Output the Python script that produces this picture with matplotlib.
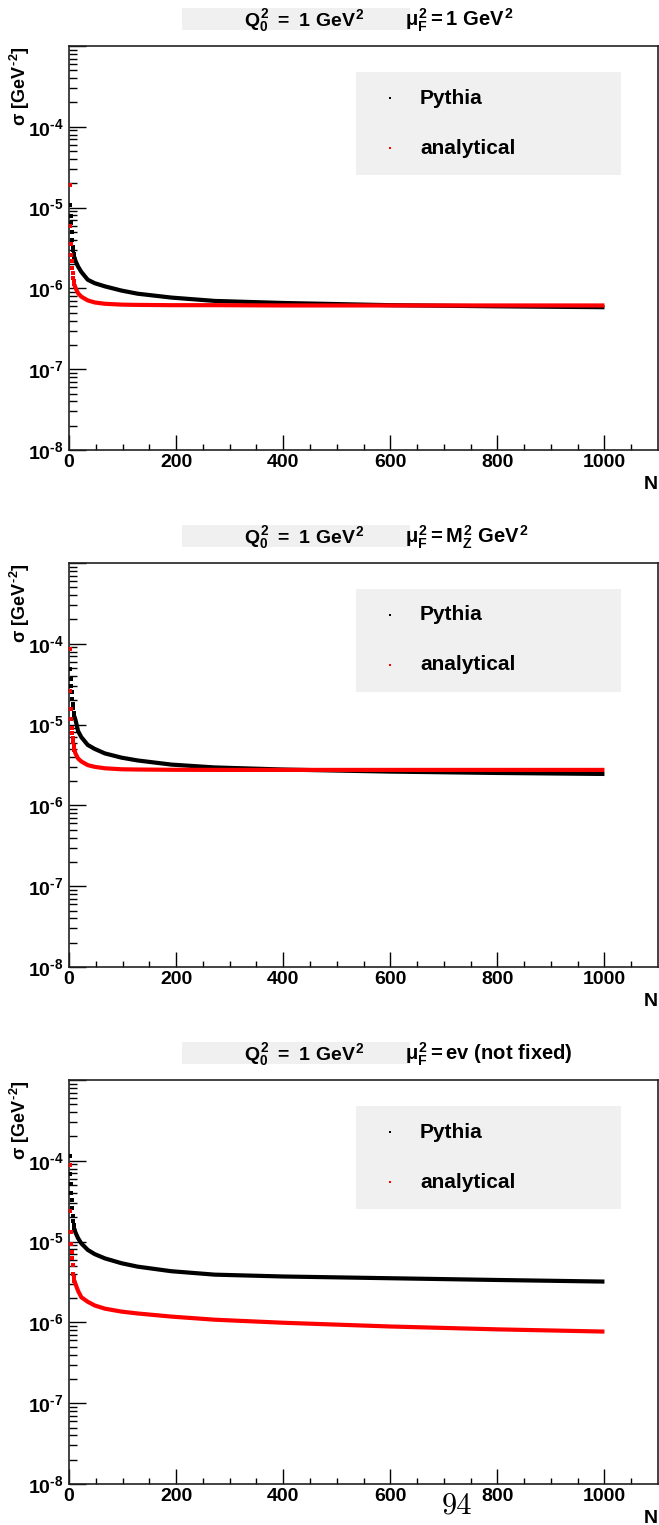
import math
import matplotlib
matplotlib.use("Agg")
import matplotlib.pyplot as plt
from matplotlib.patches import Rectangle
from matplotlib.ticker import LogLocator, FixedLocator, NullFormatter, FuncFormatter

# ---------------- data ----------------
N_early = [1, 2, 3, 4, 5, 6, 7, 8, 9, 10]
N_late = [10, 12, 17, 23, 35, 48, 67, 98, 128, 191, 272, 400, 600, 800, 1000]

# panel 1 : mu_F^2 = 1 GeV^2
p1_pythia_early = [1.9e-5, 1.08e-5, 7.8e-6, 6.5e-6, 5.0e-6, 4.0e-6, 3.3e-6, 3.0e-6, 2.7e-6, 2.45e-6]
p1_pythia_late = [2.45e-6, 2.2e-6, 1.86e-6, 1.6e-6, 1.28e-6, 1.16e-6, 1.06e-6, 9.4e-7, 8.6e-7, 7.7e-7,
                  7.0e-7, 6.6e-7, 6.2e-7, 6.0e-7, 5.85e-7]
p1_anal_early = [1.9e-5, 5.9e-6, 3.5e-6, 2.6e-6, 2.2e-6, 1.8e-6, 1.55e-6, 1.35e-6, 1.22e-6, 1.12e-6]
p1_anal_late = [1.12e-6, 1.02e-6, 8.7e-7, 7.9e-7, 7.1e-7, 6.7e-7, 6.45e-7, 6.3e-7, 6.25e-7, 6.2e-7,
                6.2e-7, 6.15e-7, 6.15e-7, 6.15e-7, 6.15e-7]

# panel 2 : mu_F^2 = M_Z^2
p2_pythia_early = [8.7e-5, 4.9e-5, 3.65e-5, 3.0e-5, 2.5e-5, 2.1e-5, 1.8e-5, 1.6e-5, 1.4e-5, 1.27e-5]
p2_pythia_late = [1.27e-5, 1.15e-5, 8.3e-6, 7.0e-6, 5.6e-6, 5.0e-6, 4.4e-6, 3.9e-6, 3.6e-6, 3.2e-6,
                  2.95e-6, 2.78e-6, 2.62e-6, 2.52e-6, 2.45e-6]
p2_anal_early = [8.7e-5, 2.6e-5, 1.54e-5, 1.16e-5, 9.2e-6, 7.9e-6, 6.9e-6, 6.1e-6, 5.4e-6, 4.9e-6]
p2_anal_late = [4.9e-6, 4.4e-6, 3.8e-6, 3.5e-6, 3.15e-6, 3.0e-6, 2.88e-6, 2.8e-6, 2.78e-6, 2.76e-6,
                2.75e-6, 2.75e-6, 2.75e-6, 2.75e-6, 2.75e-6]

# panel 3 : mu_F^2 = ev (not fixed)
p3_pythia_early = [1.15e-4, 6.8e-5, 5.1e-5, 4.0e-5, 3.3e-5, 2.6e-5, 2.05e-5, 1.8e-5, 1.6e-5, 1.45e-5]
p3_pythia_late = [1.45e-5, 1.3e-5, 1.1e-5, 9.5e-6, 7.9e-6, 7.0e-6, 6.2e-6, 5.4e-6, 4.9e-6, 4.3e-6,
                  3.9e-6, 3.7e-6, 3.52e-6, 3.35e-6, 3.2e-6]
p3_anal_early = [8.8e-5, 2.37e-5, 1.33e-5, 9.3e-6, 7.5e-6, 6.2e-6, 5.1e-6, 4.0e-6, 3.6e-6, 3.3e-6]
p3_anal_late = [3.3e-6, 3.0e-6, 2.45e-6, 2.05e-6, 1.8e-6, 1.62e-6, 1.48e-6, 1.36e-6, 1.29e-6, 1.18e-6,
                1.08e-6, 9.9e-7, 8.9e-7, 8.2e-7, 7.7e-7]

q0_title = r'$Q_0^2\ {=}\ 1\ GeV^2$'
muF_titles = [r'$μ_F^2{=}1\ GeV^2$', r'$μ_F^2{=}M_Z^2\ GeV^2$', r'$μ_F^2{=}ev\ (not\ fixed)$']
y_title = r'$σ\ [GeV^{‐2}]$'
legend_labels = ['Pythia', 'analytical']
x_ticks = [0, 200, 400, 600, 800, 1000]

# ---------------- style ----------------
plt.rcParams['font.family'] = ['Liberation Sans', 'DejaVu Sans']
plt.rcParams['font.weight'] = 'bold'
plt.rcParams['mathtext.fontset'] = 'custom'
plt.rcParams['mathtext.rm'] = 'Liberation Sans:bold'
plt.rcParams['mathtext.it'] = 'Liberation Sans:bold'
plt.rcParams['mathtext.bf'] = 'Liberation Sans:bold'
plt.rcParams['mathtext.sf'] = 'Liberation Sans:bold'

W, H = 659, 1525
fig = plt.figure(figsize=(W / 100, H / 100), dpi=100)

panels = [
    (p1_pythia_early, p1_pythia_late, p1_anal_early, p1_anal_late, muF_titles[0], 46),
    (p2_pythia_early, p2_pythia_late, p2_anal_early, p2_anal_late, muF_titles[1], 563),
    (p3_pythia_early, p3_pythia_late, p3_anal_early, p3_anal_late, muF_titles[2], 1080),
]

ax_left = 69
ax_right = 658
ax_h = 404
FS = 14


def ylab(v, pos):
    e = int(round(math.log10(v)))
    if e >= -3:
        return ''
    return r'$10^{‐%d}$' % (-e)


for (pe, pl, ae, al, mu_t, top) in panels:
    ax = fig.add_axes([ax_left / W, 1 - (top + ax_h) / H, (ax_right - ax_left) / W, ax_h / H])
    ax.set_yscale('log')
    ax.set_xlim(0, 1100)
    ax.set_ylim(1e-8, 1e-3)

    # data
    ax.plot(N_late, pl, color='black', lw=3.0, solid_capstyle='butt', zorder=3)
    ax.plot(N_early, pe, ls='none', marker='s', ms=2.4, mew=0, color='black', zorder=3)
    ax.plot(N_late, al, color='#ff0000', lw=3.0, solid_capstyle='butt', zorder=4)
    ax.plot(N_early, ae, ls='none', marker='s', ms=2.4, mew=0, color='#ff0000', zorder=4)

    # ticks
    ax.xaxis.set_major_locator(FixedLocator(x_ticks))
    ax.xaxis.set_minor_locator(FixedLocator(list(range(50, 1100, 50))))
    ax.yaxis.set_major_locator(LogLocator(base=10, numticks=20))
    ax.yaxis.set_minor_locator(LogLocator(base=10, subs=[2, 3, 4, 5, 6, 7, 8, 9], numticks=20))
    ax.yaxis.set_minor_formatter(NullFormatter())
    ax.yaxis.set_major_formatter(FuncFormatter(ylab))
    ax.tick_params(axis='both', which='both', direction='in', top=False, right=False,
                   colors='black', width=1.0)
    ax.tick_params(axis='x', which='major', length=10.5, pad=3, labelsize=FS)
    ax.tick_params(axis='x', which='minor', length=4.5)
    ax.tick_params(axis='y', which='major', length=12.5, pad=4, labelsize=FS)
    ax.tick_params(axis='y', which='minor', length=6)
    for lab in ax.get_xticklabels():
        lab.set_fontweight('bold')
    for sp in ax.spines.values():
        sp.set_linewidth(1.2)
        sp.set_color('#222222')

    # axis titles
    ax.text((20 - ax_left) / (ax_right - ax_left), 1.0, y_title, rotation=90, ha='center',
            va='top', transform=ax.transAxes, fontsize=FS - 1)
    ax.text(1.0, -0.065, 'N', ha='right', va='top', transform=ax.transAxes,
            fontsize=FS, fontweight='bold')

    # legend box
    lx0, lx1 = (356 - ax_left) / (ax_right - ax_left), (621 - ax_left) / (ax_right - ax_left)
    ly0, ly1 = 1 - (175 - 46) / ax_h, 1 - (72 - 46) / ax_h
    ax.add_patch(Rectangle((lx0, ly0), lx1 - lx0, ly1 - ly0, transform=ax.transAxes,
                           facecolor='#f0f0f0', edgecolor='none', zorder=5))
    for i, (lab, col) in enumerate(zip(legend_labels, ['black', '#ff0000'])):
        yy = 1 - ((98 if i == 0 else 148) - 46) / ax_h
        ax.plot([(390 - ax_left) / (ax_right - ax_left)], [yy], transform=ax.transAxes,
                marker='s', ms=1.6, mew=0, color=col, ls='none', zorder=6, clip_on=False)
        ax.text((420 - ax_left) / (ax_right - ax_left), yy, lab, transform=ax.transAxes,
                ha='left', va='center', fontsize=FS + 1, fontweight='bold', zorder=6)

    # title
    fig.patches.append(Rectangle((182 / W, 1 - (top - 16) / H), (410 - 182) / W, 22 / H,
                                 transform=fig.transFigure, facecolor='#f0f0f0',
                                 edgecolor='none', zorder=0))
    fig.text(244 / W, 1 - (top - 20) / H, q0_title, ha='left', va='baseline', fontsize=FS,
             zorder=2)
    fig.text(405 / W, 1 - (top - 20) / H, mu_t, ha='left', va='baseline', fontsize=FS + 0.5,
             zorder=2)

# page number
fig.text(457 / W, 1 - 1506 / H, '94', ha='center', va='center', fontsize=22,
         family='cmr10', fontweight='normal')

fig.savefig('out.png', dpi=100)
